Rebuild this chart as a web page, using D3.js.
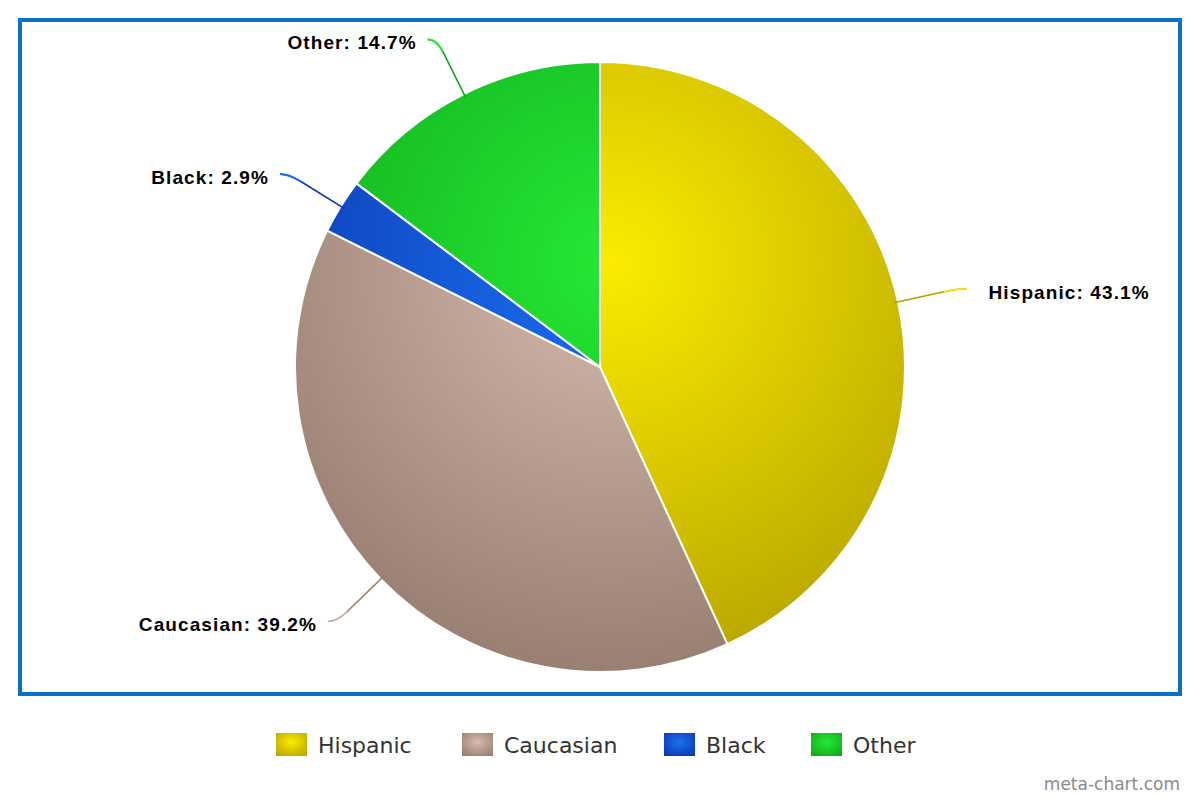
<!DOCTYPE html>
<html><head><meta charset="utf-8">
<script src="https://cdn.jsdelivr.net/npm/d3@7"></script>
<style>body{margin:0;background:#fff}svg{display:block}</style>
</head><body><svg id="c" width="1200" height="800"></svg>
<script>
const categories = ["Hispanic", "Caucasian", "Black", "Other"];
const values = [43.1, 39.2, 2.9, 14.7];
const lightColors = ["#fbec00", "#d6bbaf", "#1c70f2", "#26e834"];
const darkColors = ["#b5a200", "#957a6e", "#0935aa", "#0ea61a"];

const svg = d3.select("#c");
const cx = 600, cy = 367, R = 305;

// frame
svg.append("rect").attr("x", 20).attr("y", 20).attr("width", 1160).attr("height", 674)
  .attr("fill", "#fff").attr("stroke", "#0a70c4").attr("stroke-width", 4);

const defs = svg.append("defs");
categories.forEach((c, i) => {
  const g = defs.append("radialGradient").attr("id", "g" + i)
    .attr("gradientUnits", "userSpaceOnUse")
    .attr("cx", 12).attr("cy", -105).attr("r", 440);
  g.append("stop").attr("offset", "0%").attr("stop-color", lightColors[i]);
  g.append("stop").attr("offset", "100%").attr("stop-color", darkColors[i]);
  const l = defs.append("radialGradient").attr("id", "l" + i)
    .attr("cx", 0.5).attr("cy", 0.4).attr("r", 0.75);
  l.append("stop").attr("offset", "0%").attr("stop-color", lightColors[i]);
  l.append("stop").attr("offset", "100%").attr("stop-color", darkColors[i]);
});

const pie = d3.pie().sort(null).value(d => d)(values);
const arc = d3.arc().innerRadius(0).outerRadius(R);

const pg = svg.append("g").attr("transform", `translate(${cx},${cy})`);
pg.selectAll("path.slice").data(pie).join("path").attr("class", "slice")
  .attr("d", arc).attr("fill", (d, i) => `url(#g${i})`)
  .attr("stroke", "#fff").attr("stroke-width", 2).attr("stroke-linejoin", "round");

// labels with connectors
pie.forEach((d, i) => {
  const a = (d.startAngle + d.endAngle) / 2;
  const pt = r => [Math.sin(a) * r, -Math.cos(a) * r];
  const p0 = pt(R - 4), pa = pt(352), p1 = pt(366);
  const right = Math.sin(a) > 0;
  const p2 = [p1[0] + (right ? 9 : -9), p1[1]];
  pg.append("path")
    .attr("d", `M${p0[0]},${p0[1]}L${pa[0]},${pa[1]}Q${p1[0]},${p1[1]} ${p2[0]},${p2[1]}`)
    .attr("fill", "none").attr("stroke", darkColors[i]).attr("stroke-width", 1.6);
  pg.append("path")
    .attr("d", `M${pa[0]},${pa[1]}Q${p1[0]},${p1[1]} ${p2[0]},${p2[1]}`)
    .attr("fill", "none").attr("stroke", lightColors[i]).attr("stroke-width", 1.6);
  pg.append("text")
    .attr("x", p2[0] + (right ? 22 : -11)).attr("y", p2[1] + 10)
    .attr("text-anchor", right ? "start" : "end")
    .attr("font-family", "'Liberation Sans', Arial, sans-serif")
    .attr("font-weight", "bold").attr("font-size", 19).attr("letter-spacing", 1.1)
    .attr("fill", "#000")
    .text(`${categories[i]}: ${d3.format(".1f")(values[i])}%`);
});

// legend
const legendX = [276, 462, 664, 811];
const lg = svg.append("g");
categories.forEach((c, i) => {
  lg.append("rect").attr("x", legendX[i]).attr("y", 733).attr("width", 31).attr("height", 23)
    .attr("fill", `url(#l${i})`);
  lg.append("text").attr("x", legendX[i] + 42).attr("y", 753)
    .attr("font-family", "'DejaVu Sans', sans-serif").attr("font-size", 22)
    .attr("fill", "#333").text(c);
});

svg.append("text").attr("x", 1180).attr("y", 790).attr("text-anchor", "end")
  .attr("font-family", "'DejaVu Sans', sans-serif").attr("font-size", 17)
  .attr("fill", "#8a8a8a").text("meta-chart.com");
</script></body></html>
